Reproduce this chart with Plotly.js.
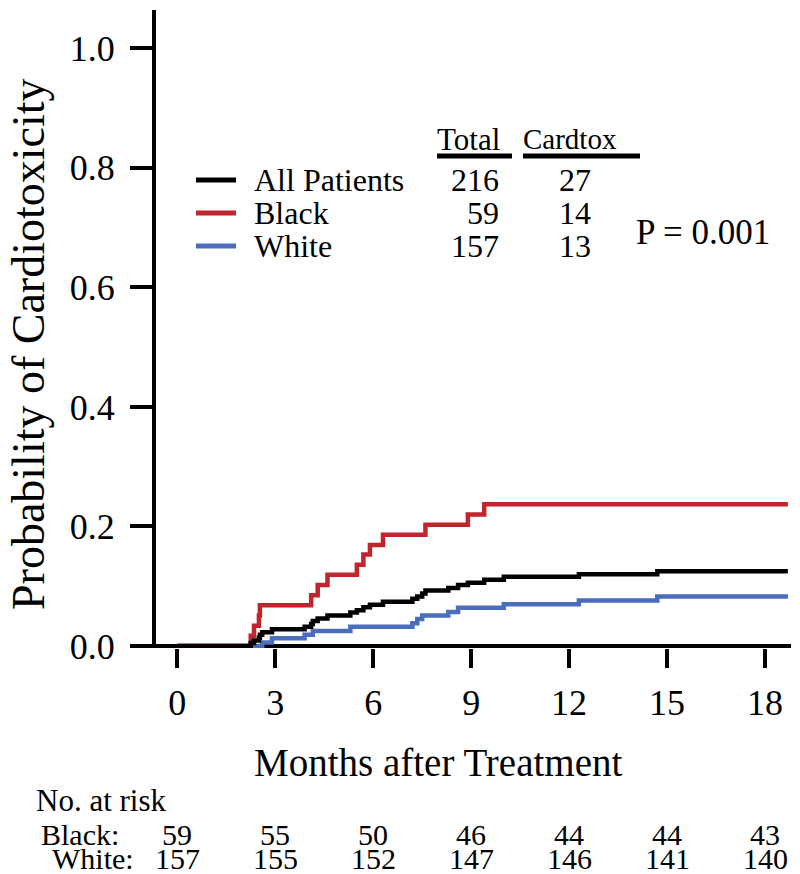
<!DOCTYPE html>
<html>
<head>
<meta charset="utf-8">
<script src="https://cdn.plot.ly/plotly-3.0.1.min.js"></script>
<style>html,body{margin:0;padding:0;background:#fff;}#chart{width:800px;height:874px;}</style>
</head>
<body>
<div id="chart"></div>
<script>
// ---- data ----
var allTimes   = [0, 2.25, 2.35, 2.5, 2.53, 2.6, 2.9, 3.9, 4.1, 4.15, 4.3, 4.6, 5.3, 5.5, 5.7, 5.9, 6.3, 7.2, 7.35, 7.5, 7.6, 8.3, 8.6, 8.9, 9.4, 10.0, 12.3, 14.7, 18.7];
var allProb    = [0, 0.005, 0.009, 0.014, 0.019, 0.023, 0.028, 0.032, 0.037, 0.042, 0.046, 0.051, 0.056, 0.060, 0.065, 0.069, 0.074, 0.079, 0.083, 0.088, 0.093, 0.097, 0.102, 0.106, 0.111, 0.116, 0.120, 0.125, 0.125];
var blackTimes = [0, 2.25, 2.35, 2.5, 2.53, 4.1, 4.3, 4.6, 5.5, 5.7, 5.9, 6.3, 7.6, 8.9, 9.4, 18.7];
var blackProb  = [0, 0.017, 0.034, 0.051, 0.068, 0.085, 0.102, 0.119, 0.136, 0.153, 0.169, 0.186, 0.203, 0.220, 0.237, 0.237];
var whiteTimes = [0, 2.6, 2.9, 3.9, 4.15, 5.3, 7.2, 7.35, 7.5, 8.3, 8.6, 10.0, 12.3, 14.7, 18.7];
var whiteProb  = [0, 0.006, 0.013, 0.019, 0.025, 0.032, 0.038, 0.045, 0.051, 0.057, 0.064, 0.070, 0.076, 0.083, 0.083];

var groupNames   = ["All Patients", "Black", "White"];
var groupTotals  = ["216", "59", "157"];
var groupEvents  = ["27", "14", "13"];
var pValueText   = "P = 0.001";

var xTicks       = [0, 3, 6, 9, 12, 15, 18];
var yTicks       = [0, 0.2, 0.4, 0.6, 0.8, 1.0];
var yTickText    = ["0.0", "0.2", "0.4", "0.6", "0.8", "1.0"];
var riskBlack    = [59, 55, 50, 46, 44, 44, 43];
var riskWhite    = [157, 155, 152, 147, 146, 141, 140];

// ---- styling ----
var FONT = "'Liberation Serif', 'Times New Roman', serif";
var colors = ["#000000", "#C0242C", "#4A6DBD"];
var LW = 4.5;

var series = [[allTimes, allProb], [blackTimes, blackProb], [whiteTimes, whiteProb]];
var traces = series.map(function (s, i) {
  return {
    x: s[0], y: s[1], type: "scatter", mode: "lines",
    line: {shape: "hv", color: colors[i], width: LW},
    name: groupNames[i], showlegend: false, hoverinfo: "skip"
  };
});
traces = [traces[2], traces[1], traces[0]];

// pixel -> paper helpers (plot area: left 156, right 791, top 10, bottom 648)
function px(x) { return (x - 156) / 635; }
function py(y) { return (648 - y) / 638; }

var ann = [];
var shapes = [];
var rowY = [180, 213, 246];
for (var i = 0; i < 3; i++) {
  shapes.push({type: "line", xref: "paper", yref: "paper", x0: px(196), x1: px(236), y0: py(rowY[i]), y1: py(rowY[i]),
               line: {color: colors[i], width: 5}});
  ann.push({xref: "paper", yref: "paper", x: px(252), y: py(rowY[i]), xanchor: "left", yanchor: "middle",
            text: groupNames[i], showarrow: false, font: {family: FONT, size: 32, color: "#000"}});
  ann.push({xref: "paper", yref: "paper", x: px(501), y: py(rowY[i]), xanchor: "right", yanchor: "middle",
            text: groupTotals[i], showarrow: false, font: {family: FONT, size: 32, color: "#000"}});
  ann.push({xref: "paper", yref: "paper", x: px(575), y: py(rowY[i]), xanchor: "center", yanchor: "middle",
            text: groupEvents[i], showarrow: false, font: {family: FONT, size: 32, color: "#000"}});
}
// table headers
ann.push({xref: "paper", yref: "paper", x: px(468), y: py(139), xanchor: "center", yanchor: "middle",
          text: "Total", showarrow: false, font: {family: FONT, size: 31, color: "#000"}});
ann.push({xref: "paper", yref: "paper", x: px(521), y: py(139), xanchor: "left", yanchor: "middle",
          text: "Cardtox", showarrow: false, font: {family: FONT, size: 29, color: "#000"}});
shapes.push({type: "line", xref: "paper", yref: "paper", x0: px(437), x1: px(512), y0: py(156), y1: py(156), line: {color: "#000", width: 5}});
shapes.push({type: "line", xref: "paper", yref: "paper", x0: px(523), x1: px(640), y0: py(156), y1: py(156), line: {color: "#000", width: 5}});
// p value
ann.push({xref: "paper", yref: "paper", x: px(634), y: py(232), xanchor: "left", yanchor: "middle",
          text: pValueText, showarrow: false, font: {family: FONT, size: 35, color: "#000"}});

// axis titles
ann.push({xref: "paper", yref: "paper", x: px(438), y: py(763), xanchor: "center", yanchor: "middle",
          text: "Months after Treatment", showarrow: false, font: {family: FONT, size: 39, color: "#000"}});
ann.push({xref: "paper", yref: "paper", x: px(28), y: py(344), xanchor: "center", yanchor: "middle", textangle: -90,
          text: "Probability of Cardiotoxicity", showarrow: false, font: {family: FONT, size: 46, color: "#000"}});

// number at risk table
var RF = 30;
ann.push({xref: "paper", yref: "paper", x: px(34), y: py(800), xanchor: "left", yanchor: "middle",
          text: "No. at risk", showarrow: false, font: {family: FONT, size: 31, color: "#000"}});
ann.push({xref: "paper", yref: "paper", x: px(39), y: py(834), xanchor: "left", yanchor: "middle",
          text: "Black:", showarrow: false, font: {family: FONT, size: RF, color: "#000"}});
ann.push({xref: "paper", yref: "paper", x: px(50), y: py(858), xanchor: "left", yanchor: "middle",
          text: "White:", showarrow: false, font: {family: FONT, size: RF, color: "#000"}});
for (var k = 0; k < xTicks.length; k++) {
  ann.push({xref: "x", yref: "paper", x: xTicks[k], y: py(834), xanchor: "center", yanchor: "middle",
            text: String(riskBlack[k]), showarrow: false, font: {family: FONT, size: RF, color: "#000"}});
  ann.push({xref: "x", yref: "paper", x: xTicks[k], y: py(858), xanchor: "center", yanchor: "middle",
            text: String(riskWhite[k]), showarrow: false, font: {family: FONT, size: RF, color: "#000"}});
}

var layout = {
  width: 800, height: 874,
  margin: {l: 156, r: 9, t: 10, b: 226, pad: 0},
  paper_bgcolor: "#fff", plot_bgcolor: "#fff",
  showlegend: false,
  font: {family: FONT, color: "#000"},
  xaxis: {
    range: [-0.652, 18.796], tickmode: "array", tickvals: xTicks,
    ticks: "outside", ticklen: 19, tickwidth: 4, tickcolor: "#000",
    showline: false,
    showgrid: false, zeroline: false, fixedrange: true,
    tickfont: {family: FONT, size: 36, color: "#000"}, ticklabelstandoff: 4
  },
  yaxis: {
    range: [-0.00335, 1.0641], tickmode: "array", tickvals: yTicks, ticktext: yTickText,
    ticks: "outside", ticklen: 22, tickwidth: 4, tickcolor: "#000",
    showline: true, linewidth: 4, linecolor: "#000", layer: "above traces",
    showgrid: false, zeroline: true, zerolinewidth: 4, zerolinecolor: "#000", fixedrange: true,
    tickfont: {family: FONT, size: 36, color: "#000"}, ticklabelstandoff: 8
  },
  annotations: ann,
  shapes: shapes
};

Plotly.newPlot("chart", traces, layout, {staticPlot: true, displayModeBar: false});
</script>
</body>
</html>
